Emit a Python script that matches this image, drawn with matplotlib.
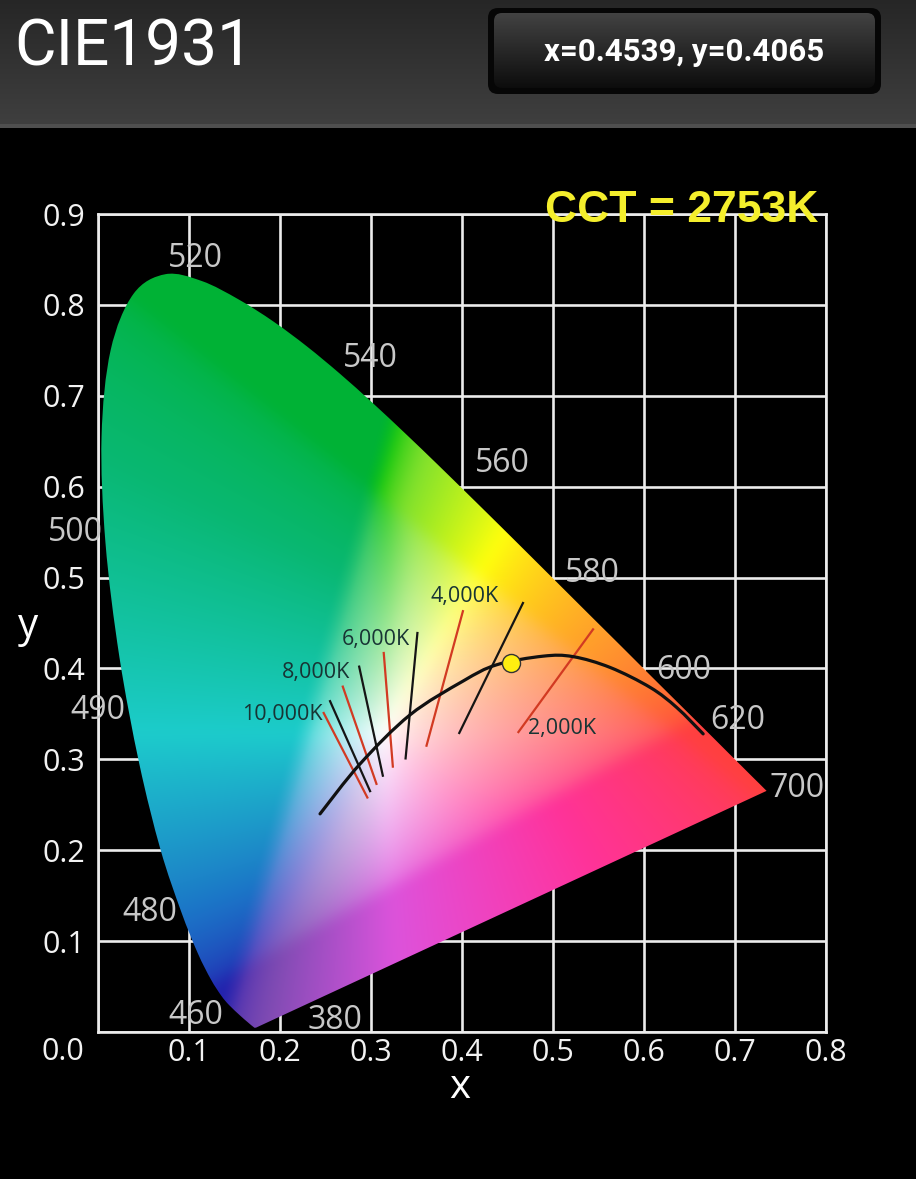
import numpy as np
import matplotlib.pyplot as plt
from matplotlib.patches import FancyBboxPatch, PathPatch
from matplotlib.path import Path
from matplotlib.colors import rgb_to_hsv, hsv_to_rgb

# CIE 1931 spectral locus (nm, x, y)
wl = [380, 400, 420, 440, 450, 460, 465, 470, 475, 480, 485, 490, 495, 500, 505,
      510, 515, 520, 525, 530, 535, 540, 545, 550, 555, 560, 565, 570, 575, 580,
      585, 590, 595, 600, 610, 620, 630, 640, 650, 660, 680, 700]
locus_x = [0.1741, 0.1733, 0.1714, 0.1644, 0.1566, 0.1440, 0.1355, 0.1241, 0.1096,
           0.0913, 0.0687, 0.0454, 0.0235, 0.0082, 0.0039, 0.0139, 0.0389, 0.0743,
           0.1142, 0.1547, 0.1929, 0.2296, 0.2658, 0.3016, 0.3373, 0.3731, 0.4087,
           0.4441, 0.4788, 0.5125, 0.5448, 0.5752, 0.6029, 0.6270, 0.6658, 0.6915,
           0.7079, 0.7190, 0.7260, 0.7300, 0.7334, 0.7347]
locus_y = [0.0050, 0.0048, 0.0051, 0.0109, 0.0177, 0.0297, 0.0399, 0.0578, 0.0868,
           0.1327, 0.2007, 0.2950, 0.4127, 0.5384, 0.6548, 0.7502, 0.8120, 0.8338,
           0.8262, 0.8059, 0.7816, 0.7543, 0.7243, 0.6923, 0.6589, 0.6245, 0.5896,
           0.5547, 0.5202, 0.4866, 0.4544, 0.4242, 0.3965, 0.3725, 0.3340, 0.3083,
           0.2920, 0.2809, 0.2740, 0.2700, 0.2666, 0.2653]

# wavelength labels (text, x, y)
wl_labels = ['520', '540', '560', '580', '600', '620', '700', '500', '490', '480', '460', '380']
wl_lab_x = [0.107, 0.299, 0.444, 0.543, 0.644, 0.703, 0.768, -0.025, 0.0, 0.057, 0.108, 0.260]
wl_lab_y = [0.8515, 0.7415, 0.625, 0.505, 0.398, 0.343, 0.268, 0.550, 0.354, 0.132, 0.0187, 0.0132]

# black-body curve as drawn
planck_x = [0.244, 0.288, 0.343, 0.401, 0.438, 0.489, 0.522, 0.563, 0.607, 0.636, 0.665]
planck_y = [0.240, 0.295, 0.349, 0.386, 0.404, 0.4135, 0.413, 0.401, 0.379, 0.357, 0.328]

# isotherm lines
iso_x0 = [0.248, 0.255, 0.269, 0.287, 0.314, 0.351, 0.401, 0.467, 0.544]
iso_y0 = [0.351, 0.364, 0.380, 0.402, 0.417, 0.439, 0.463, 0.472, 0.443]
iso_x1 = [0.296, 0.299, 0.306, 0.313, 0.324, 0.338, 0.361, 0.397, 0.462]
iso_y1 = [0.258, 0.265, 0.273, 0.282, 0.292, 0.301, 0.315, 0.329, 0.330]
iso_col = ['r', 'k', 'r', 'k', 'r', 'k', 'r', 'k', 'r']

cct_labels = ['10,000K', '8,000K', '6,000K', '4,000K', '2,000K']
cct_lab_x = [0.158, 0.202, 0.268, 0.365, 0.473]
cct_lab_y = [0.349, 0.395, 0.432, 0.479, 0.334]

pt_x, pt_y = 0.4539, 0.4065
cct = 2753

W, H = 916, 1179
fig = plt.figure(figsize=(W / 100, H / 100), dpi=100, facecolor='black')

def fx(px):
    return px / W

def fy(py):
    return 1 - py / H

def smooth_path(xs, ys, close_straight=False):
    # catmull-rom through the given points, drawn as cubic beziers
    p = np.column_stack([xs, ys])
    ext = np.vstack([p[0], p, p[-1]])
    verts = [p[0]]
    codes = [Path.MOVETO]
    for i in range(1, len(ext) - 2):
        p0, p1, p2, p3 = ext[i - 1], ext[i], ext[i + 1], ext[i + 2]
        verts += [p1 + (p2 - p0) / 6, p2 - (p3 - p1) / 6, p2]
        codes += [Path.CURVE4] * 3
    if close_straight:
        verts += [p[0], p[0]]
        codes += [Path.LINETO, Path.CLOSEPOLY]
    return Path(verts, codes)

def box_blur(a, n):
    # moving average along both image axes
    k = np.ones(n) / n
    for axis in (0, 1):
        pad = [(0, 0)] * a.ndim
        pad[axis] = (n // 2, n - 1 - n // 2)
        ap = np.pad(a, pad, mode='edge')
        c = np.cumsum(ap, axis=axis)
        c = np.concatenate([np.zeros_like(np.take(c, [0], axis=axis)), c], axis=axis)
        a = (np.take(c, np.arange(n, c.shape[axis]), axis=axis)
             - np.take(c, np.arange(0, c.shape[axis] - n), axis=axis)) / n
    return a

# header bar
hdr = fig.add_axes([0, fy(128), 1, 128 / H])
hdr.axis('off')
g = np.linspace(0.15, 0.25, 128)
g[-4:] = 0.31
hdr.imshow(np.dstack([g, g, g]).reshape(128, 1, 3), extent=(0, W, 128, 0), aspect='auto', zorder=0)
outer = FancyBboxPatch((488, 8), 393, 86, boxstyle='round,pad=0,rounding_size=10',
                       fc='#060606', ec='none', zorder=1)
hdr.add_patch(outer)
inner = FancyBboxPatch((494, 13), 381, 75, boxstyle='round,pad=0,rounding_size=8',
                       fc='none', ec='none', zorder=1)
hdr.add_patch(inner)
bg = np.linspace(0.26, 0.05, 75)
btn = hdr.imshow(np.dstack([bg, bg, bg]).reshape(75, 1, 3), extent=(494, 875, 88, 13),
                 aspect='auto', zorder=2)
btn.set_clip_path(inner)
hdr.set_xlim(0, W)
hdr.set_ylim(128, 0)
hdr.text(14, 48, 'CIE1931', color='white', fontsize=46, family='Roboto', ha='left', va='center', zorder=3)
hdr.text(684, 52, 'x=0.4539, y=0.4065', color='white', fontsize=22.5, family='Roboto',
         weight='bold', ha='center', va='center', zorder=3)

# chart
ax = fig.add_axes([fx(98), fy(1032), (826 - 98) / W, (1032 - 214) / H])
ax.set_facecolor('black')

xs = np.linspace(0.001, 0.8, 800)
ys = np.linspace(0.001, 0.9, 900)
xx, yy = np.meshgrid(xs, ys)
XYZ = np.stack([xx / yy, np.ones_like(xx), (1 - xx - yy) / yy])
M = np.array([[3.2406, -1.5372, -0.4986],
              [-0.9689, 1.8758, 0.0415],
              [0.0557, -0.2040, 1.0570]])
rgb = np.tensordot(M, XYZ, axes=1)
rgb = np.clip(rgb, 0, None)
rgb = rgb / rgb.max(axis=0, keepdims=True)
rgb = np.where(rgb <= 0.0031308, 12.92 * rgb, 1.055 * np.clip(rgb, 0, None) ** (1 / 2.4) - 0.055)
rgb = np.clip(np.moveaxis(rgb, 0, -1), 0, 1)

# soften the palette towards the printed chart look
hsv = rgb_to_hsv(rgb)
hue_deg = hsv[..., 0] * 360
hk = [0, 30, 60, 90, 120, 150, 180, 210, 240, 270, 300, 330, 360]
s_k = [0.75, 0.82, 0.95, 0.80, 1.00, 0.95, 0.86, 0.86, 0.80, 0.58, 0.62, 0.80, 0.75]
v_k = [1.00, 1.00, 1.00, 0.88, 0.70, 0.72, 0.80, 0.78, 0.68, 0.70, 0.86, 1.00, 1.00]
sh_k = [0, 0, 0, 2, 18, 6, 0, 0, 0, 0, 0, 0, 0]
sat = hsv[..., 1]
hsv[..., 0] = ((hue_deg + np.interp(hue_deg, hk, sh_k) * sat) % 360) / 360
hsv[..., 2] = hsv[..., 2] * (1 - (1 - np.interp(hue_deg, hk, v_k)) * sat)
hsv[..., 1] = sat * np.interp(hue_deg, hk, s_k)
rgb = np.clip(box_blur(hsv_to_rgb(hsv), 21), 0, 1)

horseshoe = PathPatch(smooth_path(locus_x, locus_y, close_straight=True), fc='none', ec='none')
ax.add_patch(horseshoe)
img = ax.imshow(rgb, extent=(0.001, 0.8, 0.001, 0.9), origin='lower', aspect='auto',
                interpolation='bilinear', zorder=2)
img.set_clip_path(horseshoe)
ax.set_xlim(0, 0.8)
ax.set_ylim(0, 0.9)

ax.set_xticks(np.arange(0, 0.81, 0.1))
ax.set_yticks(np.arange(0, 0.91, 0.1))
ax.set_xticklabels([''] + ['%.1f' % v for v in np.arange(0.1, 0.81, 0.1)])
ax.set_yticklabels([''] + ['%.1f' % v for v in np.arange(0.1, 0.91, 0.1)])
ax.tick_params(length=0, colors='#f2f2f2', labelsize=22, pad=9)
ax.tick_params(axis='x', pad=4)
for lab in ax.get_xticklabels() + ax.get_yticklabels():
    lab.set_family('Open Sans')
ax.grid(True, color='#ececec', lw=1.9, zorder=1)
ax.set_axisbelow(True)
for s in ax.spines.values():
    s.set_color('#ececec')
    s.set_linewidth(1.9)
    s.set_zorder(1)

ax.add_patch(PathPatch(smooth_path(planck_x, planck_y), fc='none', ec='#111111', lw=2.3,
                       zorder=4, capstyle='round'))
for x0, y0, x1, y1, c in zip(iso_x0, iso_y0, iso_x1, iso_y1, iso_col):
    ax.plot([x0, x1], [y0, y1], color='#d23a22' if c == 'r' else '#151515', lw=1.6, zorder=3)
for t, x, y in zip(cct_labels, cct_lab_x, cct_lab_y):
    ax.text(x, y, t, color='#183434', fontsize=15.5, family='Open Sans', ha='left', va='center', zorder=5)
for t, x, y in zip(wl_labels, wl_lab_x, wl_lab_y):
    ax.text(x, y, t, color='#c8c8c8', fontsize=23, family='Open Sans', ha='center', va='center',
            zorder=6, clip_on=False)

ax.plot([pt_x], [pt_y], 'o', ms=13, mfc='#ffee10', mec='#333333', mew=1, zorder=7)

fig.text(fx(545), fy(211), 'CCT = %dK' % cct, color='#f4ee2c', fontsize=32, weight='bold',
         family='Liberation Sans', ha='left', va='center', zorder=10)
fig.text(fx(63), fy(1052), '0.0', color='#f2f2f2', fontsize=22, family='Open Sans', ha='center', va='center')
fig.text(fx(28), fy(627), 'y', color='white', fontsize=29, family='Open Sans', ha='center', va='center')
fig.text(fx(460), fy(1098), 'x', color='white', fontsize=29, family='Open Sans', ha='center', va='baseline')

fig.savefig('out.png', dpi=100, facecolor='black')
